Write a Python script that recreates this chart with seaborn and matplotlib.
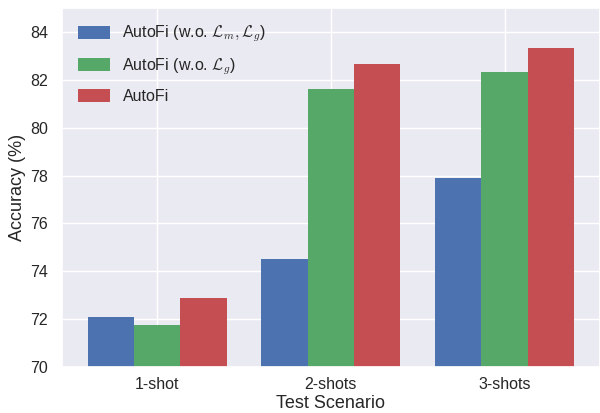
import matplotlib
matplotlib.use("Agg")
import matplotlib.pyplot as plt
import seaborn as sns
import pandas as pd

scenarios = ["1-shot", "2-shots", "3-shots"]
methods = [r"AutoFi (w.o. $\mathcal{L}_m, \mathcal{L}_g$)",
           r"AutoFi (w.o. $\mathcal{L}_g$)",
           "AutoFi"]
acc_no_lm_lg = [72.08, 74.5, 77.88]
acc_no_lg = [71.75, 81.62, 82.33]
acc_full = [72.88, 82.67, 83.33]

sns.set_theme(style="darkgrid")
plt.rcParams["font.family"] = ["Liberation Sans", "DejaVu Sans"]
plt.rcParams["mathtext.fontset"] = "cm"

df = pd.DataFrame({
    "scenario": scenarios * 3,
    "method": [m for m in methods for _ in scenarios],
    "acc": acc_no_lm_lg + acc_no_lg + acc_full,
})

fig = plt.figure(figsize=(6, 4.13), dpi=100)
ax = fig.add_axes([0.103, 0.111, 0.897, 0.87])

sns.barplot(data=df, x="scenario", y="acc", hue="method", hue_order=methods,
            palette=["#4C72B0", "#55A868", "#C44E52"], saturation=1,
            errorbar=None, width=0.8, linewidth=0, ax=ax)

ax.set_ylim(70, 85)
ax.set_xlim(-0.55, 2.55)
ax.set_yticks([70, 72, 74, 76, 78, 80, 82, 84])
ax.xaxis.grid(True)
ax.yaxis.grid(True)
ax.set_axisbelow(True)
ax.tick_params(labelsize=11.5)
ax.tick_params(axis="x", pad=1.0)
ax.tick_params(axis="y", pad=4)
ax.set_xlabel("Test Scenario", fontsize=13, labelpad=2)
ax.set_ylabel("Accuracy (%)", fontsize=13, labelpad=3)
ax.legend(loc="upper left", frameon=False, fontsize=11.5, title=None,
          handlelength=2.0, handleheight=0.9, labelspacing=0.75,
          borderaxespad=0.6)

plt.savefig("out.png", dpi=100)
